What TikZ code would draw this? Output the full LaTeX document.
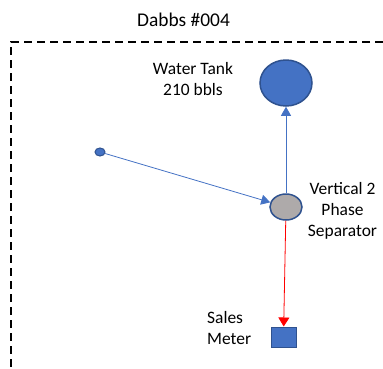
\documentclass[tikz,border=0pt]{standalone}
\usepackage{fontspec}
\setmainfont{Carlito}
\usepackage{tikz}
\usetikzlibrary{shapes.geometric,arrows.meta}
\definecolor{tankblue}{HTML}{4472C4}
\definecolor{rimblue}{HTML}{2F528F}
\definecolor{sepgray}{HTML}{AEAAAA}
\tikzstyle{tankdot}=[ellipse,draw=rimblue,fill=tankblue,line width=1.5bp,
                     inner sep=0pt,minimum width=52bp,minimum height=46bp]
\tikzstyle{welldot}=[ellipse,draw=rimblue,fill=tankblue,line width=1bp,
                     inner sep=0pt,minimum width=10bp,minimum height=8bp]
\tikzstyle{sepdot}=[ellipse,draw=rimblue,fill=sepgray,line width=1.5bp,
                    inner sep=0pt,minimum width=32bp,minimum height=26bp]
\tikzstyle{meterbox}=[rectangle,draw=rimblue,fill=tankblue,line width=1bp,
                      inner sep=0pt,minimum width=25bp,minimum height=20bp]
\tikzstyle{lbl}=[align=center,inner sep=0pt,font=\fontsize{17.5}{21.3}\selectfont]
\tikzstyle{blueflow}=[draw=tankblue,line width=0.8bp,
                      -{Triangle[length=9bp,width=10bp]}]
\tikzstyle{redflow}=[draw=red,line width=0.8bp,
                     -{Triangle[length=9bp,width=11bp]}]

\begin{document}
\begin{tikzpicture}[x=1bp,y=-1bp]
    \useasboundingbox (0,0) rectangle (383,369);
    % lease boundary
    \draw[line width=1.6bp,dash pattern=on 8bp off 5bp] (383,42) -- (11,42) -- (11,369);
    \node (title) at (183.5,20) [lbl,font=\fontsize{19.5}{23}\selectfont]{Dabbs \#004};
    % equipment
    \node (tank) at (286,83) [tankdot]{};
    \node (well) at (100,152) [welldot]{};
    \node (sep) at (286,207) [sepdot]{};
    \node (meter) at (283.5,337) [meterbox]{};
    \node (tanklbl) at (193,79) [lbl]{Water Tank\\210 bbls};
    \node (seplbl) at (342.5,211) [lbl]{Vertical 2\\Phase\\Separator};
    \node (meterlbl) at (207,328) [lbl,align=left,anchor=west]{Sales\\Meter};
    % flow lines
    \draw[blueflow] (well) -- (sep);
    \draw[blueflow] (sep) -- (tank);
    \draw[redflow] (sep) -- (meter);
  \end{tikzpicture}
\end{document}
